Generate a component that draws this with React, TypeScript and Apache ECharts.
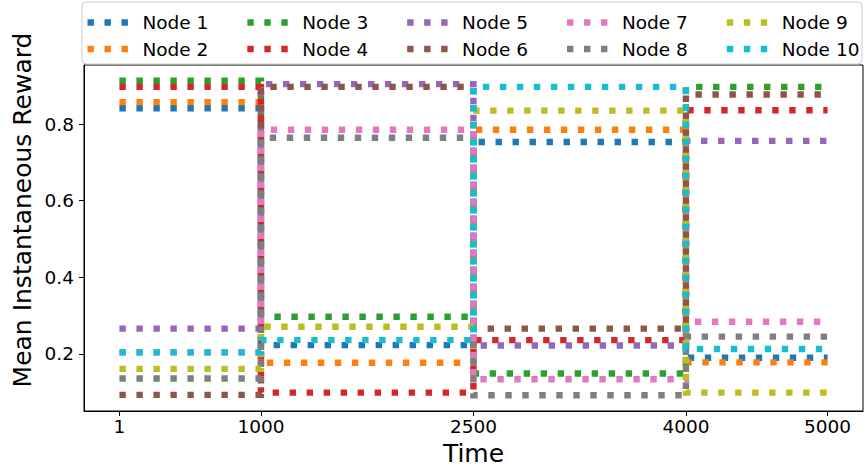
import React, { useEffect, useRef } from "react";
import * as echarts from "echarts";

const breakpoints = [1, 1000, 2500, 4000, 5000];
const xTicks = [1, 1000, 2500, 4000, 5000];
const yTicks = [0.2, 0.4, 0.6, 0.8];

const nodeNames = ["Node 1", "Node 2", "Node 3", "Node 4", "Node 5", "Node 6", "Node 7", "Node 8", "Node 9", "Node 10"];
const colors = ["#1f77b4", "#ff7f0e", "#2ca02c", "#d62728", "#9467bd", "#8c564b", "#e377c2", "#7f7f7f", "#bcbd22", "#17becf"];

const node1 = [0.841, 0.223, 0.753, 0.19];
const node2 = [0.857, 0.177, 0.785, 0.178];
const node3 = [0.913, 0.297, 0.149, 0.897];
const node4 = [0.897, 0.099, 0.236, 0.836];
const node5 = [0.266, 0.904, 0.222, 0.756];
const node6 = [0.093, 0.897, 0.266, 0.877];
const node7 = [0.204, 0.785, 0.134, 0.284];
const node8 = [0.136, 0.764, 0.092, 0.245];
const node9 = [0.161, 0.271, 0.835, 0.099];
const node10 = [0.204, 0.236, 0.897, 0.213];

const nodeValues = [node1, node2, node3, node4, node5, node6, node7, node8, node9, node10];

const FONT = "DejaVu Sans";
const LW = 6.4;
const DASH = [6.4, 10.6];
const LEGEND_ICON = "path://M0,0h6.4v6.4h-6.4z M17,0h6.4v6.4h-6.4z M34,0h6.4v6.4h-6.4z";

function stepData(vals: number[]) {
  const pts: number[][] = [];
  for (let i = 0; i < vals.length; i++) {
    pts.push([breakpoints[i], vals[i]]);
    pts.push([breakpoints[i + 1], vals[i]]);
  }
  return pts;
}

export default function App() {
  const ref = useRef<HTMLDivElement>(null);
  useEffect(() => {
    if (!ref.current) return;
    const chart = echarts.init(ref.current, null, { renderer: "svg" });
    const legendCommon = {
      orient: "horizontal",
      padding: 0,
      width: 790,
      itemWidth: 40.4,
      itemHeight: 6.4,
      itemGap: 39,
      icon: LEGEND_ICON,
      selectedMode: false,
      textStyle: { fontFamily: FONT, fontSize: 18.5, color: "#000", padding: [0, 0, 0, 9.5] },
    };
    chart.setOption({
      animation: false,
      backgroundColor: "#fff",
      grid: {
        left: 84,
        right: 2,
        top: 65,
        bottom: 56,
        show: true,
        borderColor: "#000",
        borderWidth: 1,
        outerBoundsMode: "none",
      },
      graphic: [
        {
          type: "rect",
          z: 1,
          shape: { x: 82, y: 2, width: 780, height: 62, r: 4 },
          style: { fill: "rgba(255,255,255,0.8)", stroke: "#cccccc", lineWidth: 1 },
        },
        {
          type: "text",
          x: 22,
          y: 210,
          rotation: Math.PI / 2,
          style: {
            text: "Mean Instantaneous Reward",
            fontFamily: FONT,
            fontSize: 25,
            fill: "#000",
            align: "center",
            verticalAlign: "middle",
          },
        },
      ],
      legend: [
        { ...legendCommon, left: 87.5, top: 13, data: nodeNames.filter((_, i) => i % 2 === 0) },
        { ...legendCommon, left: 87.5, top: 39.5, data: nodeNames.filter((_, i) => i % 2 === 1) },
      ],
      xAxis: {
        type: "value",
        min: -249,
        max: 5250,
        name: "Time",
        nameLocation: "middle",
        nameGap: 21,
        nameTextStyle: { fontFamily: FONT, fontSize: 25, color: "#000", verticalAlign: "top" },
        axisLine: { show: true, onZero: false, lineStyle: { color: "#000", width: 1 } },
        axisTick: { show: true, length: 5, lineStyle: { color: "#000" }, customValues: xTicks },
        axisLabel: {
          fontFamily: FONT,
          fontSize: 18.5,
          color: "#000",
          margin: 6,
          customValues: xTicks,
          formatter: (v: number) => String(v),
        },
        splitLine: { show: false },
      },
      yAxis: {
        type: "value",
        min: 0.051,
        max: 0.954,
        axisLine: { show: true, onZero: false, lineStyle: { color: "#000", width: 1 } },
        axisTick: { show: true, length: 5, lineStyle: { color: "#000" }, customValues: yTicks },
        axisLabel: {
          fontFamily: FONT,
          fontSize: 18.5,
          color: "#000",
          margin: 10,
          customValues: yTicks,
          formatter: (v: number) => v.toFixed(1),
        },
        splitLine: { show: false },
      },
      series: nodeNames.map((name, i) => ({
        name,
        type: "line",
        data: stepData(nodeValues[i]),
        symbol: "none",
        showSymbol: false,
        color: colors[i],
        lineStyle: { color: colors[i], width: LW, type: DASH, cap: "butt", join: "miter" },
        emphasis: { disabled: true },
        z: 2,
      })),
    });
    return () => chart.dispose();
  }, []);
  return <div ref={ref} style={{ position: "fixed", left: 0, top: 0, width: 865, height: 467 }} />;
}
